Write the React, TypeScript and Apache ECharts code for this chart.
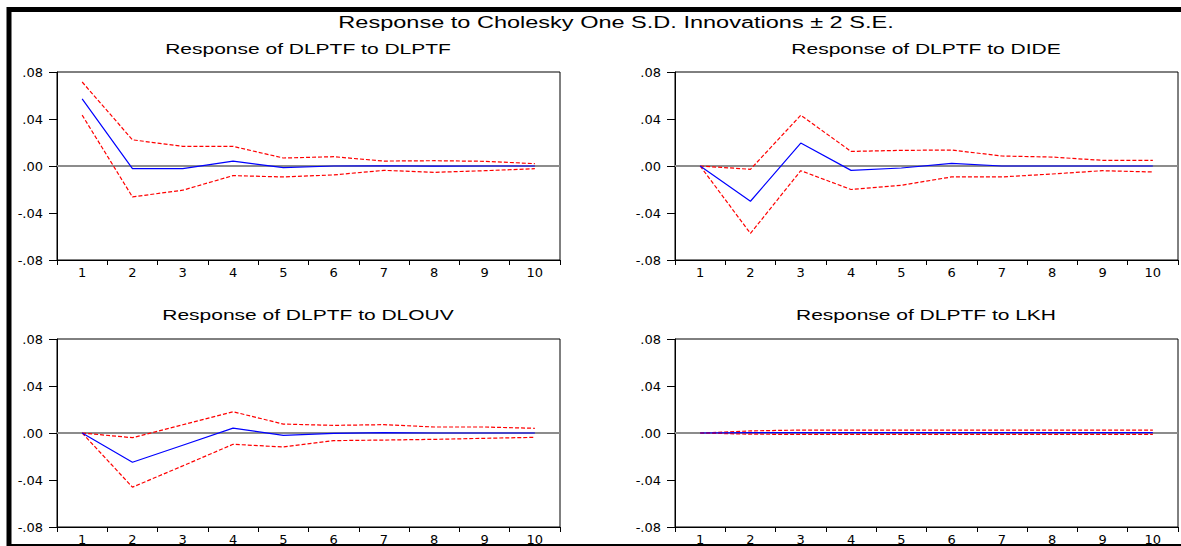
import React, { useEffect, useRef } from "react";
import * as echarts from "echarts";

const periods = ["1", "2", "3", "4", "5", "6", "7", "8", "9", "10"];
const yTicks = [-0.08, -0.04, 0, 0.04, 0.08];

const mainTitle = "Response to Cholesky One S.D. Innovations \u00B1 2 S.E.";
const panelTitles = [
  "Response of DLPTF to DLPTF",
  "Response of DLPTF to DIDE",
  "Response of DLPTF to DLOUV",
  "Response of DLPTF to LKH",
];

// Response of DLPTF to DLPTF
const dlptfResp = [0.0571, -0.0023, -0.0022, 0.0042, -0.0014, 0.0, 0.0002, -0.0001, 0.0, 0.0];
const dlptfUpper = [0.0715, 0.0223, 0.0167, 0.0167, 0.0068, 0.0079, 0.0042, 0.0045, 0.004, 0.002];
const dlptfLower = [0.0433, -0.0263, -0.0206, -0.0082, -0.0093, -0.0076, -0.0037, -0.0054, -0.004, -0.0023];

// Response of DLPTF to DIDE
const dideResp = [0.0, -0.030, 0.0195, -0.0037, -0.0017, 0.0023, 0.0, 0.0, 0.0, 0.0];
const dideUpper = [0.0, -0.0028, 0.0432, 0.0124, 0.0133, 0.0136, 0.0085, 0.0076, 0.0048, 0.0048];
const dideLower = [0.0, -0.0574, -0.004, -0.020, -0.0164, -0.0093, -0.0093, -0.0068, -0.004, -0.0051];

// Response of DLPTF to DLOUV
const dlouvResp = [0.0, -0.0249, -0.0104, 0.0042, -0.002, -0.0003, 0.0003, 0.0, 0.0, 0.0];
const dlouvUpper = [0.0, -0.004, 0.007, 0.0181, 0.0076, 0.0065, 0.0071, 0.0051, 0.0051, 0.004];
const dlouvLower = [0.0, -0.0461, -0.028, -0.0096, -0.0119, -0.0065, -0.006, -0.0054, -0.0045, -0.0037];

// Response of DLPTF to LKH
const lkhResp = [0.0, 0.0004, 0.0003, 0.0003, 0.0003, 0.0003, 0.0003, 0.0003, 0.0003, 0.0003];
const lkhUpper = [0.0, 0.0018, 0.0025, 0.0025, 0.0025, 0.0025, 0.0025, 0.0025, 0.0025, 0.0025];
const lkhLower = [0.0, -0.001, -0.0012, -0.0012, -0.0012, -0.0012, -0.0012, -0.0012, -0.0012, -0.0012];

const panels = [
  { title: panelTitles[0], resp: dlptfResp, upper: dlptfUpper, lower: dlptfLower },
  { title: panelTitles[1], resp: dideResp, upper: dideUpper, lower: dideLower },
  { title: panelTitles[2], resp: dlouvResp, upper: dlouvUpper, lower: dlouvLower },
  { title: panelTitles[3], resp: lkhResp, upper: lkhUpper, lower: lkhLower },
];

const gridBoxes = [
  { left: 57, top: 72, width: 503, height: 188 },
  { left: 675, top: 72, width: 503, height: 188 },
  { left: 57, top: 339, width: 503, height: 188 },
  { left: 675, top: 339, width: 503, height: 188 },
];

const fmtY = (v: number) => {
  const s = Math.abs(v).toFixed(2).replace(/^0/, "");
  return (v < -1e-9 ? "-" : "") + s;
};

export default function App() {
  const ref = useRef<HTMLDivElement>(null);

  useEffect(() => {
    if (!ref.current) return;
    const chart = echarts.init(ref.current, null, { renderer: "svg" });

    const grid = gridBoxes.map((g) => ({
      ...g,
      show: true,
      borderColor: "#000",
      borderWidth: 1,
      backgroundColor: "#fff",
    }));

    const xAxis = gridBoxes.map((_, i) => ({
      type: "category",
      gridIndex: i,
      data: periods,
      boundaryGap: true,
      axisLine: { show: true, onZero: false, lineStyle: { color: "#000", width: 1 } },
      axisTick: {
        show: true,
        length: 5,
        interval: 0,
        alignWithLabel: false,
        lineStyle: { color: "#000" },
      },
      axisLabel: {
        interval: 0,
        margin: 6,
        color: "#000",
        fontFamily: "DejaVu Sans",
        fontSize: 13,
      },
      splitLine: { show: false },
    }));

    const yAxis = gridBoxes.map((_, i) => ({
      type: "value",
      gridIndex: i,
      min: yTicks[0],
      max: yTicks[yTicks.length - 1],
      interval: 0.04,
      axisLine: { show: true, onZero: false, lineStyle: { color: "#000", width: 1 } },
      axisTick: { show: true, length: 8, lineStyle: { color: "#000" } },
      axisLabel: {
        margin: 14,
        color: "#000",
        fontFamily: "DejaVu Sans",
        fontSize: 13,
        formatter: fmtY,
      },
      splitLine: { show: false },
    }));

    const series: any[] = [];
    panels.forEach((p, i) => {
      series.push({
        type: "line",
        name: "upper",
        xAxisIndex: i,
        yAxisIndex: i,
        data: p.upper,
        symbol: "none",
        z: 2,
        lineStyle: { color: "#ff0000", width: 1.2, type: [4, 2] },
        markLine: {
          silent: true,
          symbol: ["none", "none"],
          label: { show: false },
          z: 1,
          lineStyle: { color: "#8c8c8c", width: 2, type: "solid" },
          data: [{ yAxis: 0 }],
        },
      });
      series.push({
        type: "line",
        name: "lower",
        xAxisIndex: i,
        yAxisIndex: i,
        data: p.lower,
        symbol: "none",
        z: 3,
        lineStyle: { color: "#ff0000", width: 1.2, type: [4, 2] },
      });
      series.push({
        type: "line",
        name: "response",
        xAxisIndex: i,
        yAxisIndex: i,
        data: p.resp,
        symbol: "none",
        z: 4,
        lineStyle: { color: "#0000ff", width: 1.2, type: "solid" },
      });
    });

    const titleCenters = [
      { x: 308, y: 49 },
      { x: 926, y: 49 },
      { x: 308, y: 315 },
      { x: 926, y: 315 },
    ];

    const graphic: any[] = [
      {
        type: "line",
        silent: true,
        shape: { x1: 7, y1: 9.5, x2: 1181, y2: 9.5 },
        style: { stroke: "#000", lineWidth: 5 },
      },
      {
        type: "line",
        silent: true,
        shape: { x1: 9, y1: 7, x2: 9, y2: 546 },
        style: { stroke: "#000", lineWidth: 5 },
      },
      {
        type: "line",
        silent: true,
        shape: { x1: 7, y1: 545, x2: 1181, y2: 545 },
        style: { stroke: "#000", lineWidth: 2 },
      },
      {
        type: "text",
        x: 616,
        y: 22,
        scaleX: 1.47,
        silent: true,
        style: {
          text: mainTitle,
          fill: "#000",
          fontFamily: "Liberation Sans",
          fontSize: 16,
          align: "center",
          verticalAlign: "middle",
        },
      },
      ...panels.map((p, i) => ({
        type: "text",
        x: titleCenters[i].x,
        y: titleCenters[i].y,
        scaleX: 1.5,
        silent: true,
        style: {
          text: p.title,
          fill: "#000",
          fontFamily: "Liberation Sans",
          fontSize: 14,
          align: "center",
          verticalAlign: "middle",
        },
      })),
    ];

    chart.setOption({
      animation: false,
      backgroundColor: "#fff",
      grid,
      xAxis,
      yAxis,
      series,
      graphic,
    });

    return () => {
      chart.dispose();
    };
  }, []);

  return (
    <div
      ref={ref}
      style={{
        position: "fixed",
        left: 0,
        top: 0,
        width: 1181,
        height: 546,
        background: "#fff",
      }}
    />
  );
}
